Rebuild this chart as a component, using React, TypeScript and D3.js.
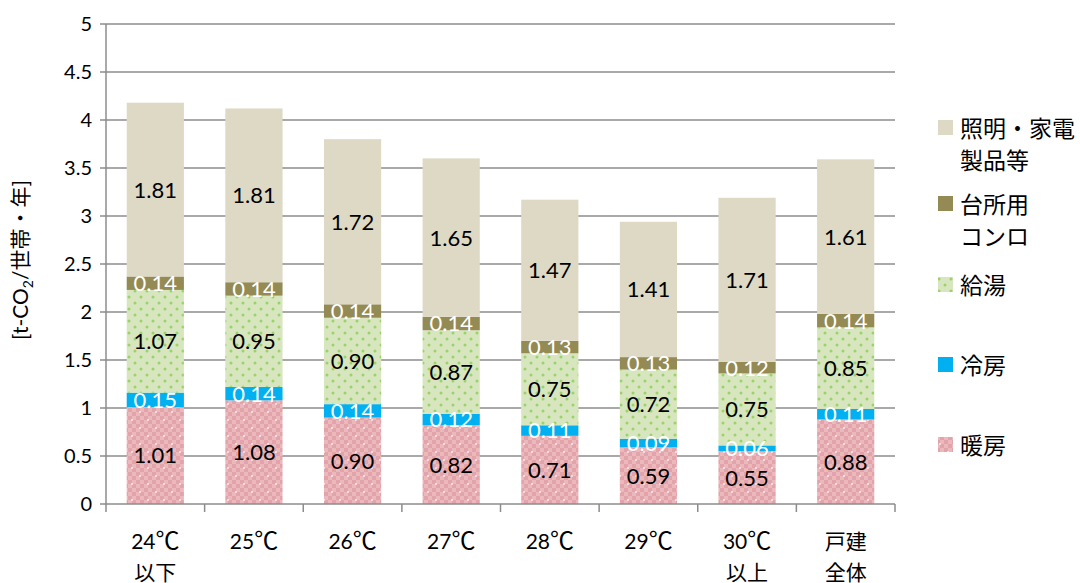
import React from "react";
import * as d3 from "d3";

const categories = ["24℃\n以下", "25℃", "26℃", "27℃", "28℃", "29℃", "30℃\n以上", "戸建\n全体"];
const seriesNames = ["暖房", "冷房", "給湯", "台所用\nコンロ", "照明・家電\n製品等"];
const heating = [1.01, 1.08, 0.9, 0.82, 0.71, 0.59, 0.55, 0.88];
const cooling = [0.15, 0.14, 0.14, 0.12, 0.11, 0.09, 0.06, 0.11];
const hotWater = [1.07, 0.95, 0.9, 0.87, 0.75, 0.72, 0.75, 0.85];
const stove = [0.14, 0.14, 0.14, 0.14, 0.13, 0.13, 0.12, 0.14];
const lighting = [1.81, 1.81, 1.72, 1.65, 1.47, 1.41, 1.71, 1.61];
const yTicks = [0, 0.5, 1, 1.5, 2, 2.5, 3, 3.5, 4, 4.5, 5];

const seriesValues = [heating, cooling, hotWater, stove, lighting];
const fills = ["url(#pinkPat)", "#00B0F0", "url(#greenPat)", "#948A54", "#DDD9C4"];
const labelWhite = [false, true, false, true, false];
const legendY = [445, 365, 285, 204, 128];

const W = 1080, H = 583;
const left = 106, right = 895, top = 24, bottom = 504;
const font = "Lato, 'Noto Sans CJK JP', sans-serif";
const cjk = "'Noto Sans CJK JP', sans-serif";

function renderLine(ln: string) {
  const parts = ln.split("℃");
  if (parts.length === 1) return ln;
  return (
    <>
      {parts[0]}
      <tspan fontFamily={cjk} fontSize={24}>℃</tspan>
      {parts[1]}
    </>
  );
}

export default function App() {
  const x = d3.scaleBand<string>().domain(categories).range([left, right]).paddingInner(0.42).paddingOuter(0.21);
  const y = d3.scaleLinear().domain([0, 5]).range([bottom, top]);
  const stackData = categories.map((c, i) => {
    const o: any = { c };
    seriesValues.forEach((s, k) => (o["s" + k] = s[i]));
    return o;
  });
  const stack = d3.stack<any>().keys(seriesValues.map((_, k) => "s" + k))(stackData);
  const boundaries = d3.range(categories.length + 1).map((i) => left + i * ((right - left) / categories.length));

  return (
    <svg width={W} height={H} style={{ position: "absolute", left: 0, top: 0 }}>
      <defs>
        <pattern id="pinkPat" patternUnits="userSpaceOnUse" width="16" height="16">
          <rect width="16" height="16" fill="#EBB8BC" />
          {d3.range(4).map((r) =>
            d3.range(4).map((c) =>
              (r + c) % 2 === 0 ? <rect key={r + "-" + c} x={c * 4} y={r * 4} width="4" height="4" fill="#E2A4AA" /> : null
            )
          )}
          <circle cx="4" cy="4" r="1.1" fill="#F8E4E6" />
          <circle cx="12" cy="12" r="1.1" fill="#F8E4E6" />
        </pattern>
        <pattern id="greenPat" patternUnits="userSpaceOnUse" width="12" height="12">
          <rect width="12" height="12" fill="#D7E6BE" />
          <circle cx="3" cy="3" r="1.5" fill="#9CD26A" />
          <circle cx="9" cy="9" r="1.5" fill="#9CD26A" />
        </pattern>
      </defs>
      <rect width={W} height={H} fill="#fff" />
      {yTicks.filter((t) => t > 0).map((t) => (
        <line key={t} x1={left} x2={right} y1={y(t)} y2={y(t)} stroke="#8C8C8C" strokeWidth={1.5} />
      ))}
      {stack.map((layer, k) =>
        layer.map((d, i) => (
          <rect key={k + "-" + i} x={x(categories[i])} width={x.bandwidth()} y={y(d[1])} height={y(d[0]) - y(d[1])} fill={fills[k]} />
        ))
      )}
      {stack.map((layer, k) =>
        layer.map((d, i) => (
          <text
            key={"l" + k + "-" + i}
            x={(x(categories[i]) as number) + x.bandwidth() / 2}
            y={(y(d[0]) + y(d[1])) / 2}
            dy="0.36em"
            textAnchor="middle"
            fontFamily={font}
            fontSize={22}
            fill={labelWhite[k] ? "#fff" : "#000"}
          >
            {seriesValues[k][i].toFixed(2)}
          </text>
        ))
      )}
      <line x1={left} x2={left} y1={top} y2={bottom} stroke="#8C8C8C" strokeWidth={1.5} />
      <line x1={left} x2={right} y1={bottom} y2={bottom} stroke="#8C8C8C" strokeWidth={1.5} />
      {yTicks.map((t) => (
        <g key={"yt" + t}>
          <line x1={left - 6} x2={left} y1={y(t)} y2={y(t)} stroke="#8C8C8C" strokeWidth={1.5} />
          <text x={left - 14} y={y(t)} dy="0.36em" textAnchor="end" fontFamily={font} fontSize={20} fill="#000">
            {t}
          </text>
        </g>
      ))}
      {boundaries.map((b, i) => (
        <line key={"xt" + i} x1={b} x2={b} y1={bottom} y2={bottom + 8} stroke="#8C8C8C" strokeWidth={1.5} />
      ))}
      {categories.map((c) => (
        <text key={"xl" + c} textAnchor="middle" fontFamily={font} fontSize={21} fill="#000">
          {c.split("\n").map((ln, j) => (
            <tspan key={j} x={(x(c) as number) + x.bandwidth() / 2} y={549 + j * 31}>
              {renderLine(ln)}
            </tspan>
          ))}
        </text>
      ))}
      <text transform={`translate(28,260) rotate(-90)`} textAnchor="middle" fontFamily={font} fontSize={21} fill="#000">
        [t-CO<tspan fontSize={14} dy="5">2</tspan>
        <tspan dy="-5">/世帯・年]</tspan>
      </text>
      {seriesNames.map((n, k) => (
        <g key={"lg" + k}>
          <rect x={938} y={legendY[k] - 8} width={15} height={15} fill={fills[k]} />
          <text fontFamily={font} fontSize={23} fill="#000">
            {n.split("\n").map((ln, j) => (
              <tspan key={j} x={960} y={legendY[k] + 9 + j * 32}>
                {ln}
              </tspan>
            ))}
          </text>
        </g>
      ))}
    </svg>
  );
}
